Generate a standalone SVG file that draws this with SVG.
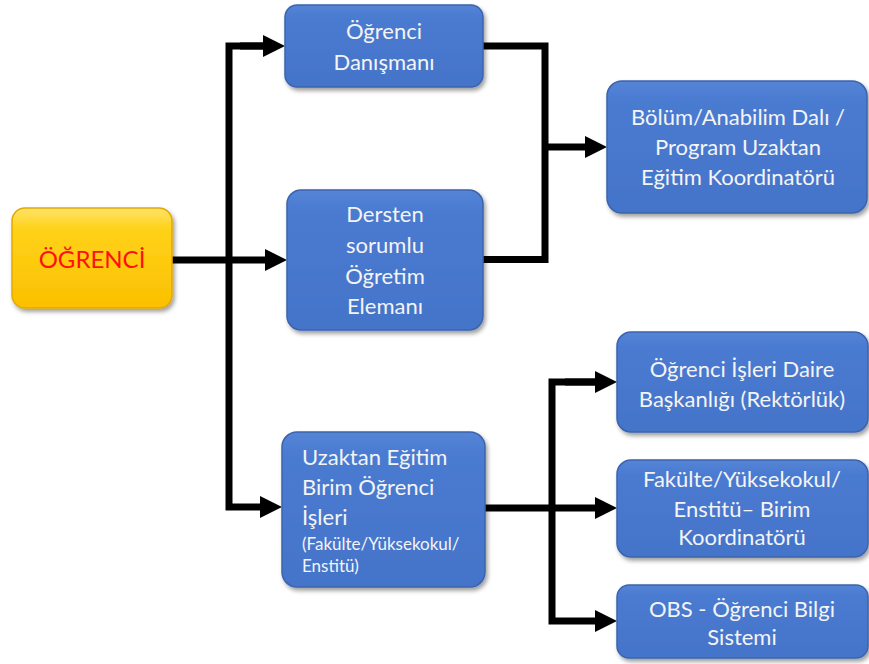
<svg xmlns="http://www.w3.org/2000/svg" width="869" height="664" viewBox="0 0 869 664">
<defs>
<linearGradient id="gBlue" x1="0" y1="0" x2="0" y2="1">
<stop offset="0" stop-color="#5584d6"/>
<stop offset="0.15" stop-color="#4a7bd1"/>
<stop offset="1" stop-color="#4474c9"/>
</linearGradient>
<linearGradient id="gYellow" x1="0" y1="0" x2="0" y2="1">
<stop offset="0" stop-color="#ffe36b"/>
<stop offset="0.2" stop-color="#ffd21a"/>
<stop offset="1" stop-color="#fbc000"/>
</linearGradient>
<filter id="sh" x="-10%" y="-10%" width="125%" height="130%">
<feDropShadow dx="2" dy="3" stdDeviation="2.2" flood-color="#000" flood-opacity="0.38"/>
</filter>
<marker id="ah" markerUnits="userSpaceOnUse" markerWidth="24" markerHeight="24" refX="0" refY="11" orient="auto">
<path d="M0,0 L22,11 L0,22 z" fill="#000"/>
</marker>
</defs>
<style>
.box{fill:url(#gBlue);stroke:#3b64ad;stroke-width:1.5;filter:url(#sh)}
.ybox{fill:url(#gYellow);stroke:#e3a900;stroke-width:1.5;filter:url(#sh)}
.t{font-family:Lato,"Open Sans","Liberation Sans",sans-serif;font-size:22px;fill:#f4f4f4;text-anchor:middle}
.tl{font-family:Lato,"Open Sans","Liberation Sans",sans-serif;font-size:22px;fill:#f4f4f4}
.ts{font-size:17px}
.red{font-family:Lato,"Open Sans","Liberation Sans",sans-serif;font-size:24px;fill:#ff1010;text-anchor:middle}
.c{fill:none;stroke:#000;stroke-width:7;stroke-linejoin:miter}
</style>
<g id="connectors">
<path class="c" d="M263,46 H229 V507 H260" marker-end="url(#ah)"/>
<path class="c" d="M240,46 H263" marker-end="url(#ah)"/>
<path class="c" d="M172,260 H265" marker-end="url(#ah)"/>
<path class="c" d="M483,46 H545 V259.5 H483"/>
<path class="c" d="M545,147 H585" marker-end="url(#ah)"/>
<path class="c" d="M485,508 H595" marker-end="url(#ah)"/>
<path class="c" d="M595,382 H552 V621 H595" marker-end="url(#ah)"/>
<path class="c" d="M565,382 H595" marker-end="url(#ah)"/>
</g>
<g id="ogrenci">
<rect class="ybox" x="12" y="208" width="160" height="100" rx="13"/>
<text class="red" x="92" y="268">ÖĞRENCİ</text>
</g>
<g id="danisman">
<rect class="box" x="285" y="5" width="198" height="82" rx="12"/>
<text class="t" x="384" y="39">Öğrenci</text>
<text class="t" x="384" y="70">Danışmanı</text>
</g>
<g id="dersten">
<rect class="box" x="287" y="190" width="196" height="140" rx="14"/>
<text class="t" x="385" y="222">Dersten</text>
<text class="t" x="385" y="253">sorumlu</text>
<text class="t" x="385" y="284">Öğretim</text>
<text class="t" x="385" y="314">Elemanı</text>
</g>
<g id="bolum">
<rect class="box" x="607" y="81" width="260" height="132" rx="15"/>
<text class="t" x="738" y="125">Bölüm/Anabilim Dalı /</text>
<text class="t" x="738" y="155">Program Uzaktan</text>
<text class="t" x="738" y="185">Eğitim Koordinatörü</text>
</g>
<g id="uzaktan">
<rect class="box" x="282" y="432" width="203" height="155" rx="15"/>
<text class="tl" x="302" y="465">Uzaktan Eğitim</text>
<text class="tl" x="302" y="495">Birim Öğrenci</text>
<text class="tl" x="302" y="525">İşleri</text>
<text class="tl ts" x="302" y="550">(Fakülte/Yüksekokul/</text>
<text class="tl ts" x="302" y="572">Enstitü)</text>
</g>
<g id="daire">
<rect class="box" x="617" y="332" width="251" height="100" rx="14"/>
<text class="t" x="742" y="377">Öğrenci İşleri Daire</text>
<text class="t" x="742" y="407">Başkanlığı (Rektörlük)</text>
</g>
<g id="fakulte">
<rect class="box" x="617" y="460" width="251" height="97" rx="14"/>
<text class="t" x="742" y="487">Fakülte/Yüksekokul/</text>
<text class="t" x="742" y="517">Enstitü– Birim</text>
<text class="t" x="742" y="545">Koordinatörü</text>
</g>
<g id="obs">
<rect class="box" x="617" y="585" width="251" height="73" rx="12"/>
<text class="t" x="742" y="617">OBS - Öğrenci Bilgi</text>
<text class="t" x="742" y="645">Sistemi</text>
</g>
</svg>
